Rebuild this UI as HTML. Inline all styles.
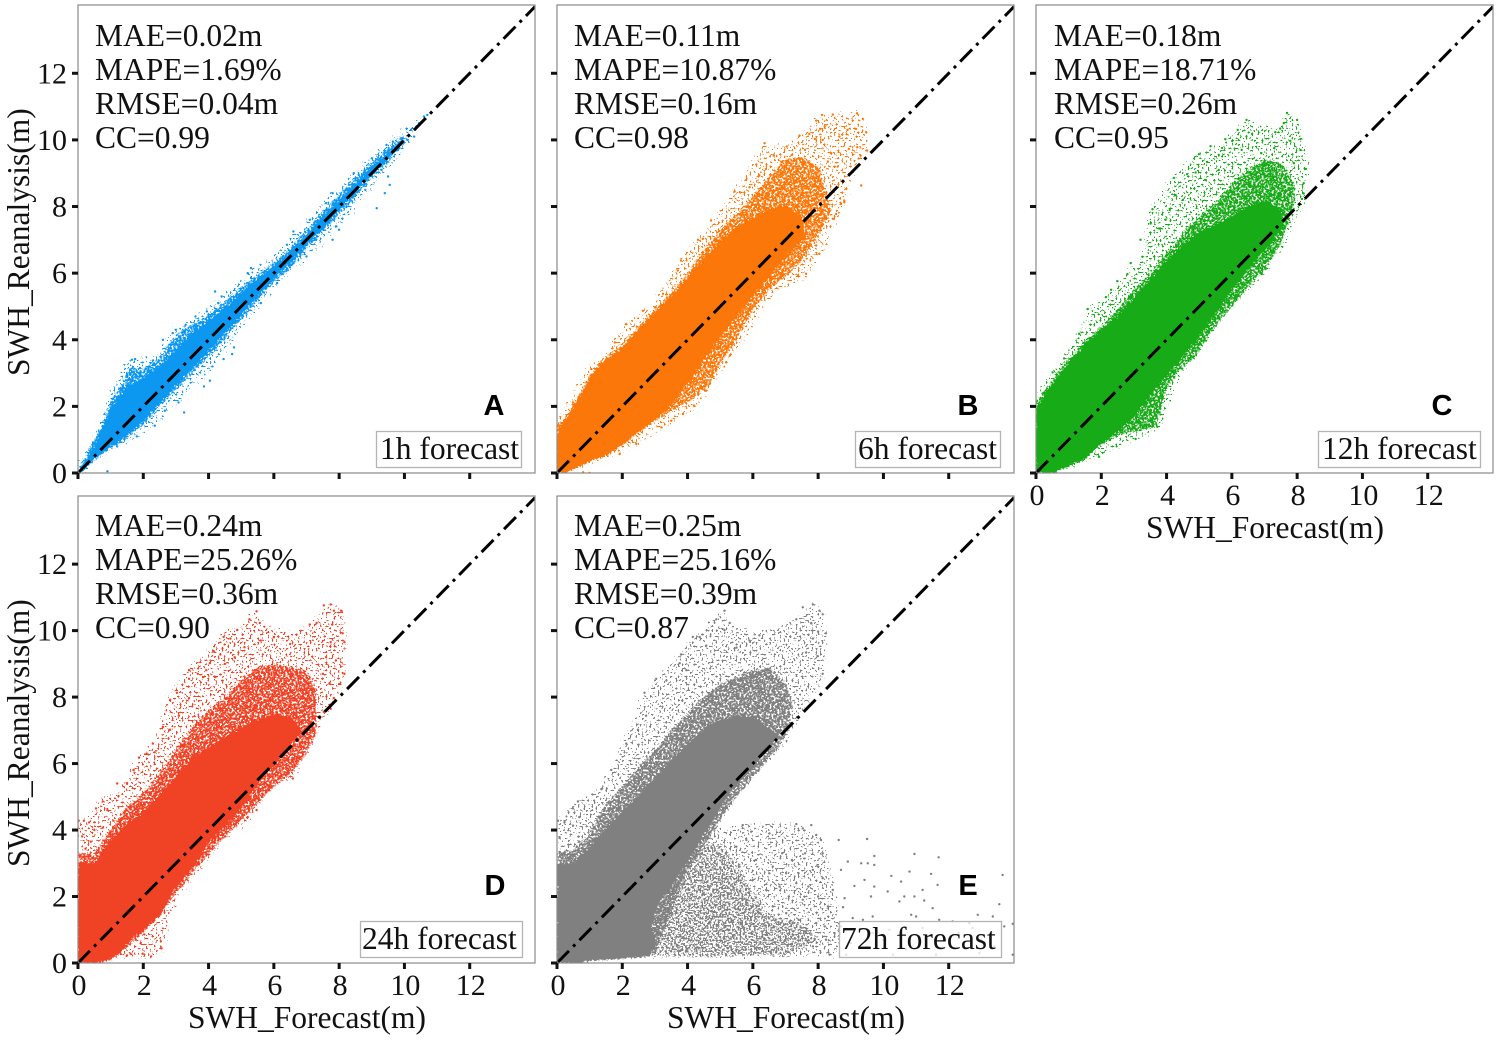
<!DOCTYPE html>
<html lang="en">
<head>
<meta charset="utf-8">
<title>SWH forecast vs reanalysis</title>
<style>
html,body{margin:0;padding:0;background:#fff;width:1499px;height:1041px;overflow:hidden}
svg{display:block}
text{font-family:"Liberation Serif",serif;fill:#111}
.stat,.title,.legend-text{font-size:31.5px}
.tick-label{font-size:30px}
.panel-letter{font-family:"Liberation Sans",sans-serif;font-weight:700;font-size:29px;fill:#000;text-anchor:middle}
.legend-box{stroke:#b4b4b4;stroke-width:1.3}
.frame{fill:none;stroke:#8a8a8a;stroke-width:1.2}
</style>
</head>
<body>
<svg id="figure" width="1499" height="1041" viewBox="0 0 1499 1041" xmlns="http://www.w3.org/2000/svg">
<defs>
<clipPath id="clip-a"><rect x="78" y="5" width="457" height="468"/></clipPath>
<clipPath id="clip-b"><rect x="557" y="5" width="457" height="468"/></clipPath>
<clipPath id="clip-c"><rect x="1036" y="5" width="457" height="468"/></clipPath>
<clipPath id="clip-d"><rect x="78" y="496" width="457" height="467"/></clipPath>
<clipPath id="clip-e"><rect x="557" y="496" width="457" height="467"/></clipPath>

<filter id="rough-edge" x="-5%" y="-5%" width="110%" height="110%" color-interpolation-filters="sRGB">
<feTurbulence type="fractalNoise" baseFrequency="0.45" numOctaves="2" seed="5" result="n"/>
<feDisplacementMap in="SourceGraphic" in2="n" scale="5" xChannelSelector="R" yChannelSelector="G"/>
</filter>
<filter id="stipple-dense" x="-5%" y="-5%" width="110%" height="110%" color-interpolation-filters="sRGB">
<feTurbulence type="fractalNoise" baseFrequency="0.5" numOctaves="2" seed="8" result="n"/>
<feDisplacementMap in="SourceGraphic" in2="n" scale="7" xChannelSelector="R" yChannelSelector="G" result="d"/>
<feColorMatrix in="n" type="matrix" values="0 0 0 0 0  0 0 0 0 0  0 0 0 0 0  0 0 0 30 -12.6" result="m"/>
<feComposite in="d" in2="m" operator="in"/>
</filter>
<filter id="stipple-mid" x="-5%" y="-5%" width="110%" height="110%" color-interpolation-filters="sRGB">
<feTurbulence type="fractalNoise" baseFrequency="0.55" numOctaves="1" seed="11" result="n"/>
<feDisplacementMap in="SourceGraphic" in2="n" scale="10" xChannelSelector="R" yChannelSelector="G" result="d"/>
<feColorMatrix in="n" type="matrix" values="0 0 0 0 0  0 0 0 0 0  0 0 0 0 0  0 0 0 30 -15.4" result="m"/>
<feComposite in="d" in2="m" operator="in"/>
</filter>
<filter id="stipple-sparse" x="-5%" y="-5%" width="110%" height="110%" color-interpolation-filters="sRGB">
<feTurbulence type="fractalNoise" baseFrequency="0.5" numOctaves="1" seed="17" result="n"/>
<feDisplacementMap in="SourceGraphic" in2="n" scale="14" xChannelSelector="R" yChannelSelector="G" result="d"/>
<feColorMatrix in="n" type="matrix" values="0 0 0 0 0  0 0 0 0 0  0 0 0 0 0  0 0 0 30 -17.6" result="m"/>
<feComposite in="d" in2="m" operator="in"/>
</filter>
</defs>

<g id="panel-a">
<g id="marks-a" clip-path="url(#clip-a)"></g>
<rect class="frame" x="78" y="5" width="457" height="468"/>
<g id="axes-a"></g>
<text class="stat" x="95" y="46">MAE=0.02m</text>
<text class="stat" x="95" y="80">MAPE=1.69%</text>
<text class="stat" x="95" y="114">RMSE=0.04m</text>
<text class="stat" x="95" y="148">CC=0.99</text>
<text class="panel-letter" x="494" y="415">A</text>
<rect class="legend-box" x="376.5" y="431.5" width="145" height="36" fill="#fff"/>
<text class="legend-text" x="380" y="459">1h forecast</text>
<text class="title" transform="translate(29,376) rotate(-90)">SWH_Reanalysis(m)</text>
</g>

<g id="panel-b">
<g id="marks-b" clip-path="url(#clip-b)"></g>
<rect class="frame" x="557" y="5" width="457" height="468"/>
<g id="axes-b"></g>
<text class="stat" x="574" y="46">MAE=0.11m</text>
<text class="stat" x="574" y="80">MAPE=10.87%</text>
<text class="stat" x="574" y="114">RMSE=0.16m</text>
<text class="stat" x="574" y="148">CC=0.98</text>
<text class="panel-letter" x="968" y="415">B</text>
<rect class="legend-box" x="855.5" y="431.5" width="145" height="36" fill="#fff"/>
<text class="legend-text" x="858" y="459">6h forecast</text>
</g>

<g id="panel-c">
<g id="marks-c" clip-path="url(#clip-c)"></g>
<rect class="frame" x="1036" y="5" width="457" height="468"/>
<g id="axes-c"></g>
<text class="stat" x="1054" y="46">MAE=0.18m</text>
<text class="stat" x="1054" y="80">MAPE=18.71%</text>
<text class="stat" x="1054" y="114">RMSE=0.26m</text>
<text class="stat" x="1054" y="148">CC=0.95</text>
<text class="panel-letter" x="1442" y="415">C</text>
<rect class="legend-box" x="1318.5" y="431.5" width="162" height="36" fill="#fff"/>
<text class="legend-text" x="1322" y="459">12h forecast</text>
<text class="title" x="1146" y="538">SWH_Forecast(m)</text>
</g>

<g id="panel-d">
<g id="marks-d" clip-path="url(#clip-d)"></g>
<rect class="frame" x="78" y="496" width="457" height="467"/>
<g id="axes-d"></g>
<text class="stat" x="95" y="536">MAE=0.24m</text>
<text class="stat" x="95" y="570">MAPE=25.26%</text>
<text class="stat" x="95" y="604">RMSE=0.36m</text>
<text class="stat" x="95" y="638">CC=0.90</text>
<text class="panel-letter" x="495" y="895">D</text>
<rect class="legend-box" x="360.5" y="921.5" width="162" height="36" fill="#fff"/>
<text class="legend-text" x="362" y="949">24h forecast</text>
<text class="title" transform="translate(29,867) rotate(-90)">SWH_Reanalysis(m)</text>
<text class="title" x="188" y="1028">SWH_Forecast(m)</text>
</g>

<g id="panel-e">
<g id="marks-e" clip-path="url(#clip-e)"></g>
<rect class="frame" x="557" y="496" width="457" height="467"/>
<g id="axes-e"></g>
<text class="stat" x="574" y="536">MAE=0.25m</text>
<text class="stat" x="574" y="570">MAPE=25.16%</text>
<text class="stat" x="574" y="604">RMSE=0.39m</text>
<text class="stat" x="574" y="638">CC=0.87</text>
<text class="panel-letter" x="968" y="895">E</text>
<rect class="legend-box" x="839.5" y="921.5" width="162" height="36" fill="#fff" fill-opacity="0.78"/>
<text class="legend-text" x="841" y="949">72h forecast</text>
<text class="title" x="667" y="1028">SWH_Forecast(m)</text>
</g>
</svg>

<script>
// Shared axis ticks
const tickValues = [0, 2, 4, 6, 8, 10, 12];
const tickLabels = ["0", "2", "4", "6", "8", "10", "12"];

// Panel A (1h): cloud outlines by point density and outlying points, [forecast, reanalysis] in metres
const panelACore = [[0,0.02],[0.5,0.85],[1,1.9],[1.5,2.6],[2,2.85],[2.5,3.2],[3,3.7],[3.5,4.2],[4,4.55],[4.5,4.95],[5,5.4],[5.5,5.85],[6,6.2],[6.5,6.65],[7,7.15],[7.5,7.7],[8,8.2],[8.5,8.7],[9,9.2],[9.5,9.6],[9.9,10],[9.5,9.45],[9,9],[8.5,8.45],[8,7.9],[7.5,7.35],[7,6.85],[6.5,6.3],[6,5.85],[5.5,5.3],[5,4.75],[4.5,4.2],[4,3.7],[3.5,3.15],[3,2.65],[2.5,2.1],[2,1.55],[1.5,1.15],[1,0.8],[0.5,0.42],[0.05,0]];
const panelAHalo = [[0,0.03],[0.3,0.6],[0.5,1],[0.8,1.55],[1,2.15],[1.3,2.6],[1.5,3],[1.65,3.2],[1.9,3.05],[2.2,3.25],[2.5,3.45],[2.8,3.9],[3.2,4.3],[3.6,4.5],[4,4.75],[4.5,5.15],[5,5.55],[5.5,5.95],[6,6.3],[6.5,6.75],[7,7.3],[7.5,7.85],[8,8.35],[8.5,8.85],[9,9.35],[9.5,9.75],[10,10.15],[10,9.9],[9.5,9.35],[9,8.9],[8.5,8.3],[8,7.75],[7.5,7.25],[7,6.75],[6.5,6.15],[6,5.75],[5.5,5.15],[5,4.6],[4.5,4.05],[4,3.5],[3.5,3],[3,2.5],[2.5,2],[2,1.45],[1.5,1.05],[1,0.75],[0.5,0.4],[0.05,0]];
const panelAFringe = [[0,0.1],[0.5,1.1],[1,2.4],[1.5,3.3],[1.8,3.45],[2.4,3.45],[2.9,4.2],[3.4,4.55],[4,4.9],[4.5,5.4],[5,5.8],[5.5,6.2],[6,6.5],[6.5,7.1],[7,7.55],[7.5,8.05],[8,8.55],[8.5,9],[9,9.5],[9.5,9.95],[10.1,10.35],[10.7,10.75],[10.2,10.1],[9.7,9.3],[9,8.6],[8,7.45],[7,6.45],[6,5.6],[5,4.35],[4.5,3.7],[4,3],[3.5,2.6],[3,2],[2.5,1.6],[2,1.2],[1.5,0.95],[1,0.65],[0.5,0.3],[0.05,0]];
const panelADots = [[1.65,3.4],[1.75,3.42],[1.6,3.1],[1.5,2.95],[1.9,3.15],[2.2,3.2],[2.3,3.38],[2.85,3.85],[2.9,4.2],[2.6,4],[3,4.3],[3.3,4.45],[3.1,3.85],[3.6,4.7],[3.95,4.85],[4.3,5.1],[4.4,5.3],[4.2,5.45],[4.7,5.2],[5.3,5.85],[5.2,6],[5.3,6.15],[6.6,7.25],[6.4,6.85],[7.1,7.6],[7.3,7.55],[7.6,8.1],[7.8,8.4],[8.2,8.5],[8.45,9],[8.6,8.95],[8.5,8.85],[9,9.45],[9.2,9.4],[9.45,9.85],[9.5,9.65],[9.65,9.95],[9.9,10.05],[10.1,10],[10.2,10.3],[10.45,10.5],[10.6,10.7],[10.7,10.75],[9.5,8.9],[9.55,8.65],[9.15,7.95],[9.4,8.4],[8,7.3],[7.9,7.4],[7.8,7],[7.3,7],[7,6.5],[6.6,6.3],[6.1,5.7],[5.6,5.1],[4.8,4.5],[4.78,3.77],[4.72,3.57],[4.46,3.42],[4.04,2.77],[3.86,2.6],[3.25,1.82],[3.08,2.12],[2.66,1.87],[2.35,1.42],[1.8,1.1],[1.2,0.8],[0.9,0.05],[10.3,10.1],[9.8,9.7],[9.3,9.1],[8.8,8.5]];

// Panel B (6h)
const panelBCore = [[0,0],[0,1.3],[0.3,1.65],[0.6,2.15],[1,2.8],[1.3,3.25],[1.6,3.45],[2,3.75],[2.5,4.3],[3,4.8],[3.5,5.3],[4,5.85],[4.5,6.4],[5,6.95],[5.5,7.4],[6,7.65],[6.5,7.9],[7,8.05],[7.5,7.7],[7.6,7.1],[7,6.5],[6.5,5.9],[6,5.3],[5.5,4.7],[5,4.1],[4.5,3.4],[4,2.7],[3.5,2.05],[3,1.6],[2.5,1.25],[2,0.85],[1.5,0.52],[1,0.36],[0.6,0.15],[0.3,0.02]];
const panelBHalo = [[0,1.4],[0.3,1.7],[0.6,2.2],[1,2.9],[1.3,3.3],[2,3.85],[2.5,4.4],[3,4.9],[3.5,5.4],[4,6],[4.5,6.7],[5,7.3],[5.5,7.8],[6,8.3],[6.5,8.9],[7,9.4],[7.5,9.5],[8,9.2],[8.2,8.6],[8.4,7.9],[8,7.1],[7.5,6.4],[7,5.9],[6.5,5.5],[6,4.9],[5.6,4.2],[5.3,3.7],[5,3.3],[4.7,2.7],[4.5,2.5],[4,2.1],[3.5,1.85],[3,1.55],[2.5,1.2],[2,0.85],[1,0.35],[0,0]];
const panelBFringe = [[0,1.6],[0.5,2.3],[1,3.2],[1.5,3.6],[2.1,4.45],[2.7,4.9],[3.2,5.4],[3.7,6.3],[4.4,7.1],[4.8,7.6],[5.5,8.5],[6.3,9.8],[7,9.85],[7.5,10.1],[8,10.7],[9.2,10.8],[9.5,10.2],[9.5,9.6],[9,8.9],[8.8,8.1],[8.1,6.6],[7.6,5.9],[6.5,5.3],[5.7,4],[5.3,3.5],[4.7,2.6],[4.2,1.95],[3.5,1.5],[2.4,0.85],[1.9,0.55],[0,0]];
const panelBDots = [[7.94,10.58],[8.12,10.75],[8.45,10.76],[9.19,10.8],[9.37,10.63],[9.47,10.23],[9.16,10.33],[8.9,10.3],[8.2,10.4],[8.06,10.33],[7.43,10.13],[7.73,10.18],[7.9,10.03],[8.14,10],[8.65,10.1],[8.94,9.73],[9.2,9.78],[9.3,9.53],[9.5,9.68],[9.32,8.63],[8.86,8.53],[8.8,8.18],[8.7,8.08],[6.36,9.9],[6.64,9.53],[7.04,9.8],[6.4,9.13],[6.2,8.93],[5.8,8.8],[5.6,8.43],[5.44,8.45],[5.9,8.58],[4.72,7.58],[4.47,7.03],[4.32,7],[3.8,6.38],[3.7,6.08],[3.25,5.38],[3,4.97],[2.63,4.87],[2.12,4.47],[1.77,3.92],[1.3,3.27],[1.05,3.12],[0.49,2.12],[0.08,1.42],[8.04,6.58],[7.63,5.98],[7.38,5.93],[7.94,6.83],[8.45,7.63],[8.55,7.78],[8.8,8.13],[6.8,6.18],[6.5,5.88],[6.1,5.38],[5.6,4.38],[5.34,3.77],[5.3,3.53],[5.18,3.32],[4.67,2.67],[4.57,2.47],[4.2,2.02],[3.86,1.77],[3.5,1.57],[3.2,1.37],[2.43,0.87],[1.92,0.57],[1,0],[0.8,0.02],[7.6,9.7],[8.4,9.6],[8.6,9.2],[7.2,9.55],[6.9,9.35],[8.3,9.35]];

// Panel C (12h)
const panelCCore = [[0,0],[0,1.9],[0.3,2.4],[0.6,2.8],[1,3.3],[1.5,3.85],[2,4.3],[2.5,4.7],[3,5.25],[3.5,5.8],[4,6.35],[4.5,6.85],[5,7.2],[5.5,7.45],[6,7.7],[6.5,8],[7,8.2],[7.5,7.9],[7.6,7.4],[7,6.7],[6.5,6.1],[6,5.5],[5.5,4.8],[5,4.1],[4.5,3.5],[4,2.9],[3.5,2.35],[3,1.7],[2.5,1.25],[2,0.88],[1.5,0.42],[1,0.22],[0.5,0]];
const panelCHalo = [[0,2.1],[0.5,2.8],[1,3.4],[1.5,3.95],[2,4.4],[2.5,4.9],[3,5.5],[3.5,6],[4,6.6],[4.5,7.2],[5,7.7],[5.5,8.1],[6,8.7],[6.5,9.1],[7,9.4],[7.5,9.3],[7.9,8.7],[7.9,8],[7.5,6.9],[7,6.1],[6.5,5.6],[6,5],[5.5,4.4],[5.2,3.95],[4.8,3.4],[4.5,3.2],[4,2.6],[3.7,1.45],[3.5,1.35],[3,1.25],[2.5,1.15],[2,0.85],[1,0.2],[0.5,0]];
const panelCFringe = [[0,2.2],[0.5,3],[0.9,3.5],[1.3,4.2],[1.6,4.95],[2.2,5.3],[2.8,6],[3.3,6.5],[3.5,7.9],[4.2,8.9],[5,9.6],[5.8,10],[6.45,10.6],[7.3,10.25],[7.7,10.8],[8.1,10.4],[8.3,9.1],[8.2,8.2],[7.6,6.9],[7,6],[6.4,5.4],[5.5,4.5],[4.9,3.6],[4.4,3],[3.8,1.35],[3,1],[1.9,0.45],[1.3,0.3],[0.5,0]];
const panelCDots = [[7.69,10.81],[8,10.6],[6.45,10.6],[6.18,10.3],[7.33,10.23],[7.59,10.5],[8.1,10.02],[8.1,9.7],[7.79,9.97],[7.48,10.34],[5.8,10.02],[5.35,9.81],[4.99,9.57],[5.24,9.34],[5.6,9.55],[6.01,9.97],[6.62,10.18],[5.7,9.76],[4.63,8.97],[4.23,8.86],[4.89,9.02],[4.28,8.34],[3.57,7.92],[3.51,7.49],[3.77,7.34],[3.97,7.6],[3.26,6.49],[2.8,5.97],[2.49,5.76],[2.14,5.28],[1.58,4.92],[1.32,4.18],[0.86,3.44],[0.51,3.02],[0.2,2.39],[0.02,1.92],[8.2,8.7],[8.27,9.13],[8.2,8.39],[8.15,8.23],[7.08,6.39],[6.92,5.97],[6.42,5.55],[6.11,5.28],[5.5,4.65],[4.94,3.76],[4.84,3.5],[4.48,3.13],[3.72,1.39],[3.56,1.39],[3.05,1.02],[1.93,0.49],[1.32,0.34],[7.33,7.02],[7.64,7.55],[7.03,6.13],[6.3,9.7],[6.9,9.6],[7.3,9.75],[7.9,9.3],[5.2,8.8],[5.6,9.1],[4.5,8.2],[4.1,7.9],[3.2,7],[2.9,6.3],[2.3,5.5]];

// Panel D (24h)
const panelDCore = [[0,0],[0,3],[0.5,3],[1,3.7],[1.5,4.15],[2,4.55],[2.5,5.05],[3,5.6],[3.5,6.2],[4,6.5],[4.5,6.8],[5,7.1],[5.5,7.3],[6,7.5],[6.5,7.4],[6.9,6.95],[6.5,6.6],[6,5.95],[5.5,5.4],[5,4.65],[4.5,4.1],[4,3.65],[3.5,2.85],[3,2.3],[2.7,1.75],[2.5,1.4],[2,1],[1.7,0.8],[1.3,0.3],[1,0.12],[0.6,0]];
const panelDHalo = [[0,3.3],[0.5,3.3],[1,4],[1.5,4.7],[2,5.1],[2.5,5.7],[3,6.4],[3.5,7.1],[4,7.6],[4.5,8],[5,8.5],[5.5,8.9],[6,9],[6.5,8.9],[7,8.8],[7.3,8.2],[7.3,6.9],[7,6.3],[6.5,5.7],[6,5.3],[5,4.3],[4,3.3],[3,2.1],[2,0.9],[1,0.1],[0.5,0]];
const panelDFringe = [[0,4.3],[0.3,4.3],[0.7,4.9],[1.2,5.1],[1.5,5.5],[1.9,6.2],[2.3,6.65],[2.8,7.95],[3.4,8.85],[4,9.4],[4.4,9.9],[4.9,10.1],[5.45,10.6],[5.6,10.2],[6.5,9.9],[7.1,10.2],[7.7,10.8],[8.1,10.6],[8.2,9.6],[8.2,8.7],[7.7,7.6],[7,6.6],[6.6,5.5],[5.9,5.4],[5.2,4.3],[4.5,3.75],[3.6,2.7],[3,2],[2.6,0.4],[2.3,0.15],[1.5,0.2],[1,0.1],[0.6,0]];
const panelDDots = [[7.74,10.79],[7.53,10.76],[8.06,10.6],[7.84,10.6],[5.47,10.58],[5.25,10.34],[5.57,10.23],[4.46,9.81],[4.88,10.02],[7.31,10.23],[7.1,10.18],[7.79,10.18],[8.11,9.92],[8.16,9.65],[7.74,9.65],[4.67,9.76],[4.14,9.39],[4.36,9.28],[4.04,9.02],[3.93,8.81],[3.4,8.81],[3.67,8.7],[3.83,8.6],[3.4,8.55],[3.03,8.13],[2.82,7.92],[3.4,7.97],[3.09,7.44],[2.82,7.02],[2.29,6.6],[2.35,6.34],[1.87,6.18],[1.5,5.39],[1.24,5.02],[0.76,4.86],[0.55,4.65],[0.02,4.28],[0.18,4.28],[0.34,4.23],[0.13,3.81],[0.39,3.65],[0.23,3.44],[0.04,3.23],[0.76,4.07],[1.08,4.28],[2.03,0.86],[1.92,0.6],[1.61,0.28],[1.5,0.23],[2.24,0.2],[2.56,0.44],[2.54,0.65],[1.77,0.7],[1.98,0.28],[6.58,5.55],[6.15,5.55],[5.89,5.44],[6.68,6.07],[6.89,6.49],[6.47,6.6],[5.47,4.6],[5.2,4.39],[4.51,3.81],[8.16,8.7],[8,8.39],[7.74,7.65],[7.84,7.97],[7.53,7.55],[6.89,6.92],[7.6,9.2],[7.9,9.1],[7.5,8.7],[7.7,8.4],[6.5,9.6],[6,9.8],[5.6,9.7],[5.1,9.5],[4.8,9.2],[4.5,9],[4.2,8.6],[2.6,7.1],[2.1,6.3],[1.7,5.8],[1.2,5.4],[0.5,4],[0.9,4.6]];

// Panel E (72h)
const panelECore = [[0,0],[0,3],[0.5,3],[1,3.5],[1.5,4.05],[2,4.55],[2.5,5.05],[3,5.55],[3.5,6.1],[4,6.6],[4.5,7.05],[5,7.3],[5.5,7.45],[6,7.4],[6.5,7.05],[6.8,6.85],[6.7,6.7],[6.1,6],[5.2,5],[4.6,4],[4,3],[3.5,2.3],[3.1,1.8],[2.9,1.2],[3,0.5],[2.8,0.2],[2,0.12],[1,0.08],[0.7,0]];
const panelEHalo = [[0,3.3],[0.5,3.4],[1,3.9],[1.5,4.8],[2,5.3],[2.5,5.9],[3,6.4],[3.5,7],[4,7.5],[4.5,8],[5,8.4],[5.5,8.6],[6,8.8],[6.5,8.9],[7,8.4],[7.2,7.8],[7.1,7],[6.7,6.4],[6.2,5.8],[5.5,5],[5,4.3],[4.5,3.5],[4,2.8],[3,0.3],[1,0.1],[0.7,0]];
const panelEFringe = [[0,4.3],[0.7,4.9],[1.4,5.3],[2,6.6],[2.7,8.1],[3.7,9.2],[4.2,9.8],[5.1,10.6],[5.3,10.2],[6.2,9.9],[7.3,10.3],[7.8,10.8],[8.2,10.4],[8.2,8.7],[7.4,7.4],[7,6.6],[6,5.8],[5.2,4.8],[4.7,4],[3,0.3],[0.7,0]];
const panelEOutlierCloud = [[3,2.2],[3.8,2.9],[4.6,3.6],[5,3.5],[5.5,3],[5.9,2.3],[6.4,1.5],[7.5,1.15],[8.1,0.7],[7,0.25],[4.5,0.2],[2.9,0.2]];
const panelEOutlierFringe = [[3.3,2.5],[4.5,3.9],[5.7,4.15],[7.3,4.2],[8.1,3.7],[8.3,3.1],[8.5,2],[8.7,0.9],[8.5,0.2],[5,0.2],[3.3,0.3]];
const panelEDots = [[7.84,10.79],[7.53,10.7],[8.04,10.6],[8.14,10.49],[7.33,10.34],[5.13,10.6],[4.88,10.34],[5.29,10.23],[5.13,10.02],[7.79,10.23],[8,9.97],[8.24,9.92],[7.84,9.76],[4.16,9.81],[4.37,9.81],[3.8,9.28],[4.57,9.55],[6.2,9.86],[5.9,9.7],[5.5,9.49],[3.76,9.02],[3.96,8.81],[3.04,8.55],[3.35,8.5],[2.68,8.13],[2.73,7.44],[2.48,7.02],[2.12,6.6],[1.66,5.81],[1.36,5.23],[0.64,4.86],[0.49,4.65],[0.03,4.28],[0.23,4.23],[0.49,4.13],[0.69,4.39],[0.08,3.76],[0.69,3.65],[0.08,3.34],[0.44,3.23],[8.14,8.7],[7.99,9.23],[7.63,9.34],[5.69,4.15],[5.95,3.95],[7.33,4.18],[7.79,4.15],[7.53,4.05],[7.94,3.85],[8.09,3.7],[8.63,3.7],[9.5,3.73],[6.51,3.9],[10.95,3.28],[11.69,3.18],[8.14,3.3],[9.72,3.22],[8.91,3.05],[9.72,2.95],[9.32,3],[9.52,3],[8.7,2.8],[10.8,2.75],[10.24,2.62],[11.46,2.68],[13.65,2.65],[10.54,2.45],[9.42,2.5],[9.72,2.3],[9.11,2.32],[11.66,2.35],[11.2,2.2],[8.45,2.2],[10.13,2.15],[9.62,2],[10.49,1.85],[10.64,2],[8.81,1.95],[10.95,2],[11.25,1.88],[13.55,1.77],[8.76,1.68],[8.3,1.7],[11.51,1.65],[12.89,1.45],[13.35,1.4],[10.85,1.45],[11,1.4],[13.96,1.18],[13.7,1.1],[9.67,1.4],[9.37,1.3],[9.06,1.35],[11.71,1.3],[12.12,1.25],[12.63,1.2],[10.18,1],[11.2,1.05],[12.73,1.05],[9.67,0.9],[8.86,0.25],[10.29,0.25],[11.61,0.25],[12.94,0.3],[13.96,0.25],[8.35,0.25],[7.84,0.5],[8.24,0.7],[7.63,0.9],[7.22,1.2],[7.94,1.2],[7.33,2.4],[7.84,2.8],[7.02,2.7],[6.61,2.9],[6.82,2.3],[6.41,2.2],[6.1,3.1],[6,2.5],[7.53,1.9],[8.14,2.55],[6.61,1.7],[6.2,1.5],[7.02,1.5],[5.8,3.7],[5.49,3.5],[5.18,3.3],[5.59,2.9],[5.39,2.3],[5.8,1.9],[6,1.7],[5.18,1.6],[6.9,3.3],[7.2,3.1],[7.6,3.3],[8,2.9],[6.5,2.7],[7.4,2.7],[7.1,2],[7.7,2.3],[8,2],[6.7,1.3],[7.4,1.3],[8.2,1.1],[8.5,0.9],[8.7,1.1],[9,0.6],[9.5,0.5],[10,0.7],[10.7,0.4],[11.1,0.8],[11.9,0.7],[12.3,0.9],[13,0.7],[13.4,0.5]];

const axisMaxX = 14;
const axisMaxY = 14.05;

const panels = [
  {id:"a", left:78,   right:535,  top:5,   bottom:473, color:"#0c97f0", core:panelACore, halo:panelAHalo, fringe:panelAFringe, cloud:[], cloudFringe:[], dots:panelADots, xLabels:false, yLabels:true},
  {id:"b", left:557,  right:1014, top:5,   bottom:473, color:"#fb770a", core:panelBCore, halo:panelBHalo, fringe:panelBFringe, cloud:[], cloudFringe:[], dots:panelBDots, xLabels:false, yLabels:false},
  {id:"c", left:1036, right:1493, top:5,   bottom:473, color:"#18ab18", core:panelCCore, halo:panelCHalo, fringe:panelCFringe, cloud:[], cloudFringe:[], dots:panelCDots, xLabels:true,  yLabels:false},
  {id:"d", left:78,   right:535,  top:496, bottom:963, color:"#f04326", core:panelDCore, halo:panelDHalo, fringe:panelDFringe, cloud:[], cloudFringe:[], dots:panelDDots, xLabels:true,  yLabels:true},
  {id:"e", left:557,  right:1014, top:496, bottom:963, color:"#808080", core:panelECore, halo:panelEHalo, fringe:panelEFringe, cloud:panelEOutlierCloud, cloudFringe:panelEOutlierFringe, dots:panelEDots, xLabels:true, yLabels:false}
];

const NS = "http://www.w3.org/2000/svg";
function xAxis(p, v) { return p.left + (v / axisMaxX) * (p.right - p.left); }
function yAxis(p, v) { return p.bottom - (v / axisMaxY) * (p.bottom - p.top); }
function outline(p, pts) {
  return pts.map(function (d) { return xAxis(p, d[0]).toFixed(1) + "," + yAxis(p, d[1]).toFixed(1); }).join(" ");
}

panels.forEach(function (p) {
  const marks = document.getElementById("marks-" + p.id);
  const axes = document.getElementById("axes-" + p.id);

  if (p.cloudFringe.length) {
    const cloudFringe = document.createElementNS(NS, "polygon");
    
    
    cloudFringe.setAttribute("points", outline(p, p.cloudFringe));
    cloudFringe.setAttribute("fill", p.color);
    cloudFringe.setAttribute("filter", "url(#stipple-sparse)");
    marks.appendChild(cloudFringe);
  }
  if (p.cloud.length) {
    const cloud = document.createElementNS(NS, "polygon");
    
    
    cloud.setAttribute("points", outline(p, p.cloud));
    cloud.setAttribute("fill", p.color);
    cloud.setAttribute("filter", "url(#stipple-mid)");
    marks.appendChild(cloud);
  }
  const fringe = document.createElementNS(NS, "polygon");
  
  
  fringe.setAttribute("points", outline(p, p.fringe));
  fringe.setAttribute("fill", p.color);
  fringe.setAttribute("filter", "url(#stipple-sparse)");
  marks.appendChild(fringe);

  const halo = document.createElementNS(NS, "polygon");
  
  
  halo.setAttribute("points", outline(p, p.halo));
  halo.setAttribute("fill", p.color);
  halo.setAttribute("filter", "url(#stipple-dense)");
  marks.appendChild(halo);

  const core = document.createElementNS(NS, "polygon");
  
  
  core.setAttribute("points", outline(p, p.core));
  core.setAttribute("fill", p.color);
  core.setAttribute("filter", "url(#rough-edge)");
  marks.appendChild(core);

  p.dots.forEach(function (d) {
    const c = document.createElementNS(NS, "circle");
    
    
    c.setAttribute("cx", xAxis(p, d[0]).toFixed(1));
    c.setAttribute("cy", yAxis(p, d[1]).toFixed(1));
    c.setAttribute("r", "1.2");
    c.setAttribute("fill", p.color);
    marks.appendChild(c);
  });

  const diag = document.createElementNS(NS, "line");
  
  
  diag.setAttribute("x1", xAxis(p, 0));
  diag.setAttribute("y1", yAxis(p, 0));
  diag.setAttribute("x2", xAxis(p, 14));
  diag.setAttribute("y2", yAxis(p, 14));
  diag.setAttribute("stroke", "#000");
  diag.setAttribute("stroke-width", "3");
  diag.setAttribute("stroke-dasharray", "17 6 3 6");
  marks.appendChild(diag);

  tickValues.forEach(function (v, i) {
    const xt = document.createElementNS(NS, "line");
    
    
    xt.setAttribute("x1", xAxis(p, v));
    xt.setAttribute("x2", xAxis(p, v));
    xt.setAttribute("y1", p.bottom);
    xt.setAttribute("y2", p.bottom + 6);
    xt.setAttribute("stroke", "#111");
    xt.setAttribute("stroke-width", "3");
    axes.appendChild(xt);

    const yt = document.createElementNS(NS, "line");
    
    
    yt.setAttribute("x1", p.left - 6);
    yt.setAttribute("x2", p.left);
    yt.setAttribute("y1", yAxis(p, v));
    yt.setAttribute("y2", yAxis(p, v));
    yt.setAttribute("stroke", "#111");
    yt.setAttribute("stroke-width", "3");
    axes.appendChild(yt);

    if (p.xLabels) {
      const xl = document.createElementNS(NS, "text");
      
      
      xl.setAttribute("class", "tick-label");
      xl.setAttribute("x", xAxis(p, v) + 1);
      xl.setAttribute("y", p.bottom + 32);
      xl.setAttribute("text-anchor", "middle");
      xl.textContent = tickLabels[i];
      axes.appendChild(xl);
    }
    if (p.yLabels) {
      const yl = document.createElementNS(NS, "text");
      
      
      yl.setAttribute("class", "tick-label");
      yl.setAttribute("x", p.left - 11);
      yl.setAttribute("y", yAxis(p, v) + 10);
      yl.setAttribute("text-anchor", "end");
      yl.textContent = tickLabels[i];
      axes.appendChild(yl);
    }
  });
});
</script>
</body>
</html>
